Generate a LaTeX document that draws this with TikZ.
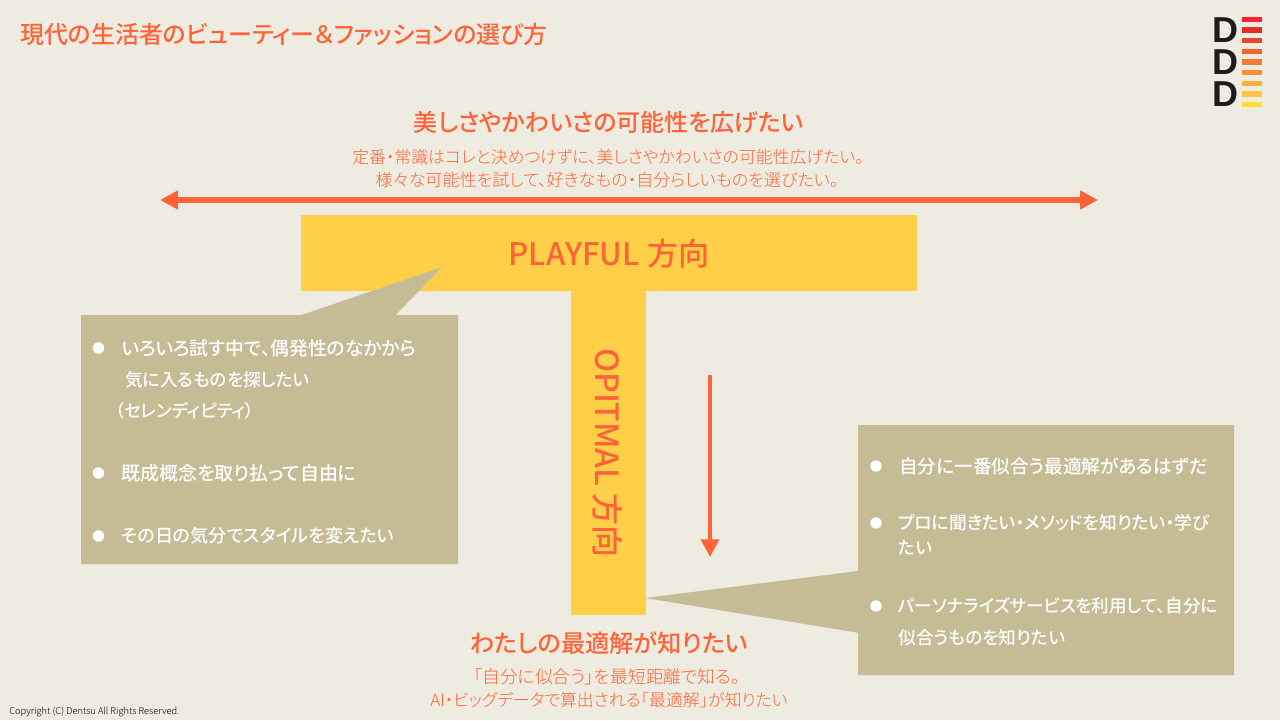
\documentclass[tikz,border=0pt]{standalone}
\usepackage{fontspec}
\setmainfont{Noto Sans CJK JP Light}[RawFeature={+palt},BoldFont={Noto Sans CJK JP Medium},BoldFeatures={RawFeature={+palt}}]
\newfontfamily\logofont{Liberation Sans}
\usetikzlibrary{arrows.meta}
\definecolor{bgcream}{HTML}{EEEBE0}
\definecolor{accent}{HTML}{FF6337}
\definecolor{tyellow}{HTML}{FFCF47}
\definecolor{boxtan}{HTML}{C5BC96}
\tikzset{
  bighead/.style={line width=3.1pt,accent,{Triangle[width=10.2pt,length=10.2pt]}-{Triangle[width=10.2pt,length=10.2pt]}},
  downhead/.style={line width=2.8pt,accent,-{Triangle[width=10pt,length=10pt]}},
  headtxt/.style={text=accent,font=\fontsize{#1}{16}\selectfont\bfseries,inner sep=0pt},
  headtxt/.default=13.65,
  subtxt/.style={text=accent,font=\fontsize{#1}{12}\selectfont,inner sep=0pt},
  subtxt/.default=9.6,
  barlabel/.style={text=accent,font=\fontsize{#1}{20}\selectfont\bfseries,inner sep=0pt},
  boxtxt/.style={text=white,anchor=west,font=\fontsize{#1}{12}\selectfont\bfseries,inner sep=0pt},
  boxtxt/.default=10.4,
  bullet/.style={circle,fill=white,minimum size=6.5pt,inner sep=0pt},
  logod/.style={text={rgb,255:red,30;green,28;blue,28},align=center,font=\fontsize{20.5}{18.14}\logofont\bfseries,inner sep=0pt},
}
\begin{document}
\begin{tikzpicture}[x=.02cm,y=-.02cm]
  \useasboundingbox (0,0) rectangle (1280,720);
  \fill[bgcream] (0,0) rectangle (1280,720);

  \node[anchor=west,text=accent,inner sep=0pt,font=\fontsize{13.63}{16}\selectfont\bfseries] (title) at (20,34)
    {現代の生活者のビューティー＆ファッションの選び方};

  % logo
  \node[logod] (logo) at (1225,62) {D\\D\\D};
  \foreach \y/\c in {19.3/FF1F30,30/E23028,40.7/E8442A,51.3/F26430,62/F47A30,72.7/F88E35,83.3/FBB03B,94/FDC43F,104.7/FFDE33} {
    \definecolor{barc}{HTML}{\c}
    \fill[barc] (1242,\y-2.7) rectangle (1262,\y+2.7);
  }

  % the T
  \fill[tyellow] (301,215) rectangle (917,291);
  \fill[tyellow] (571,291) rectangle (646,615);
  \node[barlabel=17.7] (playful) at (609,254) {PLAYFUL 方向};
  \node[barlabel=18.2,rotate=-90] (optimal) at (608,453) {OPITMAL 方向};

  % top texts
  \node[headtxt] (tophead) at (609,122) {美しさやかわいさの可能性を広げたい};
  \node[subtxt] (topsuba) at (608,157) {定番・常識はコレと決めつけずに、美しさやかわいさの可能性広げたい。};
  \node[subtxt=9.7] (topsubb) at (607,180) {様々な可能性を試して、好きなもの・自分らしいものを選びたい。};

  \coordinate (playl) at (160,200);
  \coordinate (playr) at (1098,200);
  \draw[bighead] (playl) -- (playr);
  \coordinate (opttop) at (710,375);
  \coordinate (optend) at (710,557);
  \draw[downhead] (opttop) -- (optend);

  % left callout
  \fill[boxtan] (81,315) -- (301.7,315) -- (442,267) -- (395.7,315) -- (458,315) -- (458,564) -- (81,564) -- cycle;
  \node[bullet] (la) at (98.5,348) {};
  \node[boxtxt=10.7] (lat) at (121,348) {いろいろ試す中で、偶発性のなかから};
  \node[boxtxt=10.05] (lab) at (125,380) {気に入るものを探したい};
  \node[boxtxt=10] (lac) at (115,411) {（セレンディピティ）};
  \node[bullet] (lb) at (98.5,473) {};
  \node[boxtxt=10.8] (lbt) at (121,473) {既成概念を取り払って自由に};
  \node[bullet] (lc) at (98.5,536) {};
  \node[boxtxt=10.3] (lct) at (121,536) {その日の気分でスタイルを変えたい};

  % right callout
  \fill[boxtan] (858,425) -- (1234,425) -- (1234,675) -- (858,675) -- (858,632.7) -- (645,598) -- (858,571) -- cycle;
  \node[bullet] (ra) at (876,466) {};
  \node[boxtxt=10.6] (rat) at (899,466) {自分に一番似合う最適解があるはずだ};
  \node[bullet] (rb) at (876,523) {};
  \node[boxtxt=10.1] (rbt) at (898,523) {プロに聞きたい・メソッドを知りたい・学び};
  \node[boxtxt=10.1] (rbu) at (898,548) {たい};
  \node[bullet] (rc) at (876,606) {};
  \node[boxtxt=10] (rct) at (898,606) {パーソナライズサービスを利用して、自分に};
  \node[boxtxt=10.1] (rcu) at (898,638) {似合うものを知りたい};

  % bottom texts
  \node[headtxt=13.8] (bothead) at (609,643) {わたしの最適解が知りたい};
  \node[subtxt=10.1] (botsuba) at (607,677) {「自分に似合う」を最短距離で知る。};
  \node[subtxt] (botsubb) at (609,700) {AI・ビッグデータで算出される「最適解」が知りたい};

  \node[anchor=west,inner sep=0pt,font=\fontsize{5.3}{6}\selectfont] (copy) at (9,712) {Copyright (C) Dentsu All Rights Reserved.};
\end{tikzpicture}
\end{document}
